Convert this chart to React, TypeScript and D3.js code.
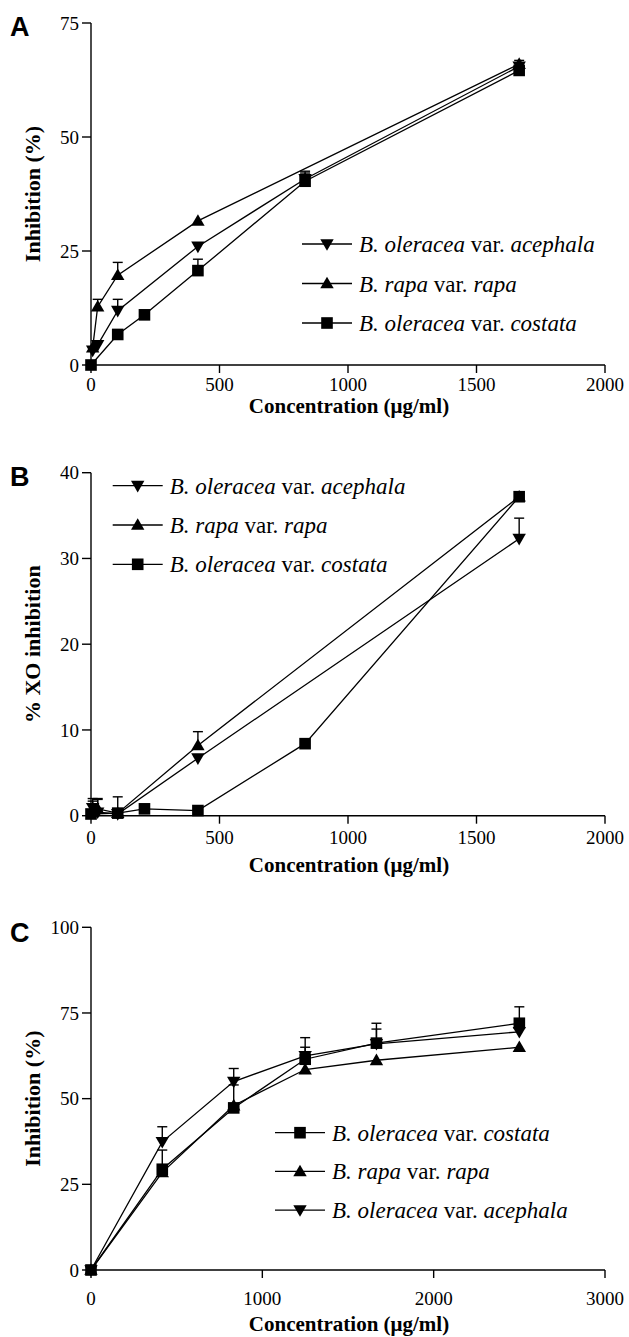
import React, { useEffect } from 'react';
import * as d3 from 'd3';

// ---- data ----

// Panel A
const concA_acephala = [6.5, 26, 104, 416, 833, 1666];
const inhA_acephala = [3.2, 4.4, 11.9, 26.0, 40.8, 65.5];
const errA_acephala = [0, 0, 2.5, 0, 1.7, 0.8];

const concA_rapa = [6.5, 26, 104, 416, 1666];
const inhA_rapa = [3.8, 12.8, 19.7, 31.6, 66.0];
const errA_rapa = [0, 1.6, 2.8, 0, 0.8];

const concA_costata = [0, 104, 208, 416, 833, 1666];
const inhA_costata = [0, 6.7, 11.0, 20.7, 40.3, 64.6];
const errA_costata = [0, 0, 0, 2.5, 1.8, 1.0];

// Panel B
const concB_acephala = [6.5, 26, 104, 416, 1666];
const xoB_acephala = [0.9, 0.4, 0.2, 6.7, 32.3];
const errB_acephala = [0.8, 1.5, 0, 0, 2.4];

const concB_rapa = [6.5, 26, 104, 416, 1666];
const xoB_rapa = [0.5, 0.8, 0.3, 8.2, 37.2];
const errB_rapa = [1.5, 1.2, 1.9, 1.6, 0];

const concB_costata = [0, 104, 208, 416, 833, 1666];
const xoB_costata = [0.2, 0.3, 0.8, 0.6, 8.4, 37.2];
const errB_costata = [0, 0, 0, 0, 0, 0];

// Panel C
const concC = [0, 416, 833, 1250, 1666, 2500];
const inhC_costata = [0, 29.4, 47.3, 61.5, 66.2, 72.0];
const errC_costata = [0, 5.6, 6.7, 6.3, 5.8, 4.8];
const inhC_rapa = [0, 28.5, 48.0, 58.5, 61.2, 65.0];
const errC_rapa = [0, 0, 0, 0, 0, 0];
const inhC_acephala = [0, 37.4, 55.0, 62.5, 66.0, 69.5];
const errC_acephala = [0, 4.4, 3.8, 2.5, 4.3, 0];

const ticksA_y = [0, 25, 50, 75];
const ticksB_y = [0, 10, 20, 30, 40];
const ticksC_y = [0, 25, 50, 75, 100];
const ticksAB_x = [0, 500, 1000, 1500, 2000];
const ticksC_x = [0, 1000, 2000, 3000];

const labelAcephala = ['B.', 'oleracea', 'acephala'];
const labelRapa = ['B.', 'rapa', 'rapa'];
const labelCostata = ['B.', 'oleracea', 'costata'];

type Marker = 'up' | 'down' | 'square';
interface Series {
  label: string[];
  marker: Marker;
  x: number[];
  y: number[];
  err: number[];
}

const SERIF = '"Liberation Serif", "Times New Roman", serif';
const SANS = '"Liberation Sans", Arial, sans-serif';

const symbolPath = (m: Marker) =>
  m === 'square'
    ? d3.symbol(d3.symbolSquare, 135)()
    : d3.symbol(d3.symbolTriangle, 78)();

const MarkerShape = ({ m, cx, cy }: { m: Marker; cx: number; cy: number }) => (
  <path
    d={symbolPath(m) || ''}
    transform={`translate(${cx},${cy})${m === 'down' ? ' rotate(180)' : ''}${m !== 'square' ? ' translate(0,1)' : ''}`}
    fill="#000"
  />
);

interface PanelProps {
  letter: string;
  letterY: number;
  top: number;
  bottom: number;
  yMax: number;
  yTicks: number[];
  xMax: number;
  xTicks: number[];
  tickY: number;
  titleY: number;
  yTitle: string;
  series: Series[];
  legend: { x: number; y: number; gap: number };
}

const Panel: React.FC<PanelProps> = (p) => {
  const left = 91;
  const right = 605;
  const x = d3.scaleLinear().domain([0, p.xMax]).range([left, right]);
  const y = d3.scaleLinear().domain([0, p.yMax]).range([p.bottom, p.top]);
  const line = d3.line<[number, number]>().x(d => x(d[0])).y(d => y(d[1]));

  return (
    <g>
      <text x={10} y={p.letterY} fontFamily={SANS} fontWeight="bold" fontSize={27}>{p.letter}</text>

      {/* axes */}
      <line x1={left} x2={left} y1={p.top} y2={p.bottom} stroke="#000" strokeWidth={1.4} />
      <line x1={left} x2={right} y1={p.bottom} y2={p.bottom} stroke="#000" strokeWidth={1.4} />
      {p.yTicks.map(t => (
        <g key={'y' + t}>
          <line x1={left - 9} x2={left} y1={y(t)} y2={y(t)} stroke="#000" strokeWidth={1.4} />
          <text x={left - 12} y={y(t)} dy="0.35em" textAnchor="end" fontFamily={SERIF} fontSize={19}>{t}</text>
        </g>
      ))}
      {p.xTicks.map(t => (
        <g key={'x' + t}>
          <line x1={x(t)} x2={x(t)} y1={p.bottom} y2={p.bottom + 8} stroke="#000" strokeWidth={1.4} />
          <text x={x(t)} y={p.tickY} textAnchor="middle" fontFamily={SERIF} fontSize={19}>{t}</text>
        </g>
      ))}
      <text x={(left + right) / 2 + 1} y={p.titleY} textAnchor="middle" fontFamily={SERIF} fontWeight="bold" fontSize={21}>
        Concentration (μg/ml)
      </text>
      <text
        transform={`translate(40,${(p.top + p.bottom) / 2}) rotate(-90)`}
        textAnchor="middle" fontFamily={SERIF} fontWeight="bold" fontSize={22}
      >
        {p.yTitle}
      </text>

      {/* series lines */}
      {p.series.map((s, i) => (
        <path key={'l' + i} d={line(s.x.map((v, j) => [v, s.y[j]] as [number, number])) || ''}
          fill="none" stroke="#000" strokeWidth={1.3} />
      ))}
      {/* error bars (upper) */}
      {p.series.map((s, i) => s.x.map((v, j) => s.err[j] > 0 ? (
        <g key={'e' + i + '-' + j} stroke="#000" strokeWidth={1.4}>
          <line x1={x(v)} x2={x(v)} y1={y(s.y[j])} y2={y(s.y[j] + s.err[j])} />
          <line x1={x(v) - 5} x2={x(v) + 5} y1={y(s.y[j] + s.err[j])} y2={y(s.y[j] + s.err[j])} />
        </g>
      ) : null))}
      {/* markers */}
      {p.series.map((s, i) => s.x.map((v, j) => (
        <MarkerShape key={'m' + i + '-' + j} m={s.marker} cx={x(v)} cy={y(s.y[j])} />
      )))}

      {/* legend */}
      {p.series.map((s, i) => {
        const ly = p.legend.y + i * p.legend.gap;
        return (
          <g key={'lg' + i}>
            <line x1={p.legend.x} x2={p.legend.x + 50} y1={ly} y2={ly} stroke="#000" strokeWidth={1.3} />
            <MarkerShape m={s.marker} cx={p.legend.x + 25} cy={ly} />
            <text x={p.legend.x + 57} y={ly + 8} fontFamily={SERIF} fontSize={23}>
              <tspan fontStyle="italic">{s.label[0]}</tspan>
              <tspan> </tspan>
              <tspan fontStyle="italic">{s.label[1]}</tspan>
              <tspan> var. </tspan>
              <tspan fontStyle="italic">{s.label[2]}</tspan>
            </text>
          </g>
        );
      })}
    </g>
  );
};

const seriesA: Series[] = [
  { label: labelAcephala, marker: 'down', x: concA_acephala, y: inhA_acephala, err: errA_acephala },
  { label: labelRapa, marker: 'up', x: concA_rapa, y: inhA_rapa, err: errA_rapa },
  { label: labelCostata, marker: 'square', x: concA_costata, y: inhA_costata, err: errA_costata },
];
const seriesB: Series[] = [
  { label: labelAcephala, marker: 'down', x: concB_acephala, y: xoB_acephala, err: errB_acephala },
  { label: labelRapa, marker: 'up', x: concB_rapa, y: xoB_rapa, err: errB_rapa },
  { label: labelCostata, marker: 'square', x: concB_costata, y: xoB_costata, err: errB_costata },
];
const seriesC: Series[] = [
  { label: labelCostata, marker: 'square', x: concC, y: inhC_costata, err: errC_costata },
  { label: labelRapa, marker: 'up', x: concC, y: inhC_rapa, err: errC_rapa },
  { label: labelAcephala, marker: 'down', x: concC, y: inhC_acephala, err: errC_acephala },
];

export default function App() {
  useEffect(() => {
    document.body.style.margin = '0';
  }, []);
  return (
    <svg width={629} height={1337} style={{ position: 'absolute', left: 0, top: 0, background: '#fff' }}>
      <rect width={629} height={1337} fill="#fff" />
      <Panel letter="A" letterY={36} top={23} bottom={365} yMax={75} yTicks={ticksA_y}
        xMax={2000} xTicks={ticksAB_x} tickY={391} titleY={413} yTitle="Inhibition (%)"
        series={seriesA} legend={{ x: 302, y: 244, gap: 39.5 }} />
      <Panel letter="B" letterY={486} top={472.7} bottom={815.7} yMax={40} yTicks={ticksB_y}
        xMax={2000} xTicks={ticksAB_x} tickY={844} titleY={872} yTitle="% XO inhibition"
        series={seriesB} legend={{ x: 112.7, y: 485.7, gap: 39.3 }} />
      <Panel letter="C" letterY={942} top={927.3} bottom={1270} yMax={100} yTicks={ticksC_y}
        xMax={3000} xTicks={ticksC_x} tickY={1305} titleY={1331} yTitle="Inhibition (%)"
        series={seriesC} legend={{ x: 275, y: 1132.7, gap: 38.7 }} />
    </svg>
  );
}
